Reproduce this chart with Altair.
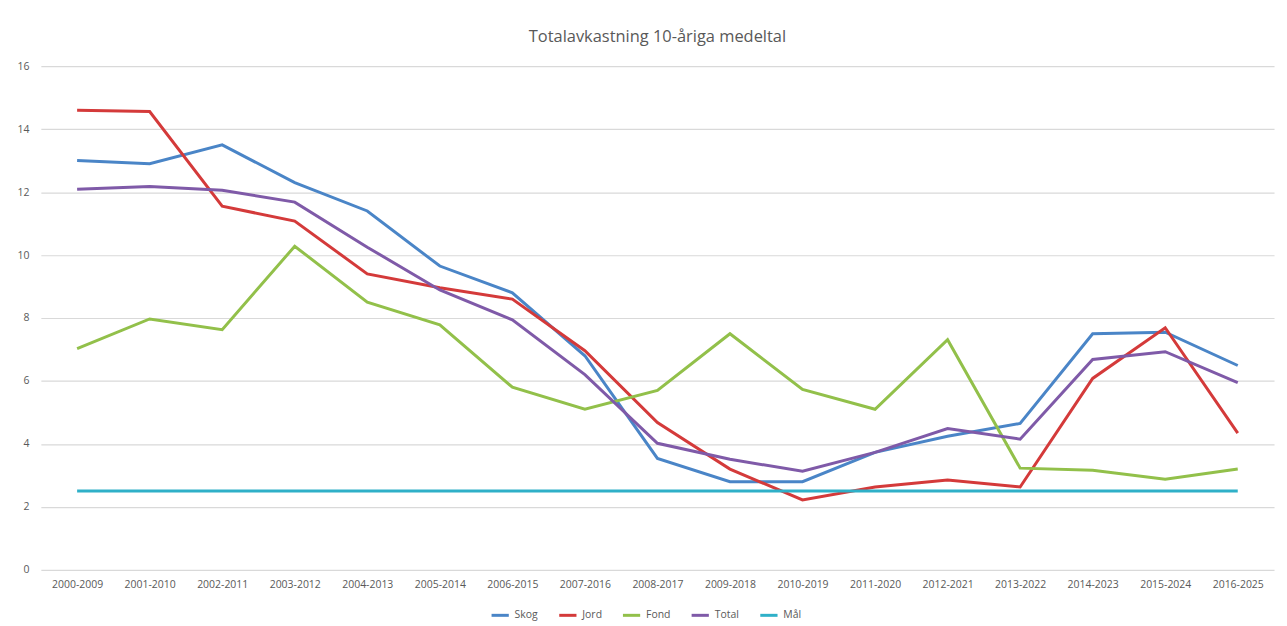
import altair as alt
import pandas as pd

periods = ["2000-2009", "2001-2010", "2002-2011", "2003-2012", "2004-2013", "2005-2014",
           "2006-2015", "2007-2016", "2008-2017", "2009-2018", "2010-2019", "2011-2020",
           "2012-2021", "2013-2022", "2014-2023", "2015-2024", "2016-2025"]
skog = [13.0, 12.9, 13.5, 12.3, 11.4, 9.65, 8.8, 6.8, 3.54, 2.8, 2.8, 3.73, 4.24, 4.65, 7.5, 7.55, 6.49]
jord = [14.6, 14.56, 11.55, 11.08, 9.4, 8.96, 8.6, 6.96, 4.68, 3.2, 2.22, 2.63, 2.85, 2.63, 6.08, 7.69, 4.34]
fond = [7.03, 7.97, 7.63, 10.28, 8.5, 7.78, 5.8, 5.1, 5.7, 7.5, 5.73, 5.1, 7.31, 3.23, 3.16, 2.88, 3.2]
total = [12.09, 12.18, 12.06, 11.68, 10.25, 8.89, 7.94, 6.2, 4.02, 3.51, 3.13, 3.73, 4.49, 4.15, 6.68, 6.93, 5.95]
mal = [2.5] * 17

series_names = ["Skog", "Jord", "Fond", "Total", "Mål"]
series_colors = ["#4a85c7", "#d43a3a", "#92c04a", "#7f5aa8", "#2fb0c8"]

df = pd.DataFrame({"Period": periods, "Skog": skog, "Jord": jord, "Fond": fond,
                   "Total": total, "Mål": mal})
long = df.melt(id_vars="Period", var_name="Serie", value_name="Värde")
long["order"] = long["Serie"].map({n: i for i, n in enumerate(series_names)})

chart = alt.Chart(long).mark_line(strokeWidth=3).encode(
    x=alt.X("Period:N", sort=periods, title=None,
            axis=alt.Axis(labelAngle=0, ticks=False, domain=False, grid=False,
                          labelColor="#595959", labelFontSize=10.5, labelPadding=10,
                          labelFont="Open Sans")),
    y=alt.Y("Värde:Q", scale=alt.Scale(domain=[0, 16]), title=None,
            axis=alt.Axis(values=list(range(0, 17, 2)), ticks=False, domain=False,
                          gridColor="#d9d9d9", gridWidth=1.2, labelColor="#595959",
                          labelFontSize=10.5, labelPadding=12, labelFont="Open Sans")),
    color=alt.Color("Serie:N", sort=series_names,
                    scale=alt.Scale(domain=series_names, range=series_colors),
                    legend=alt.Legend(title=None, orient="none", direction="horizontal",
                                      legendX=451, legendY=541,
                                      symbolType="stroke", symbolStrokeWidth=3,
                                      symbolSize=300, labelColor="#595959",
                                      labelFontSize=10.5, labelFont="Open Sans",
                                      columnPadding=14)),
    order=alt.Order("order:Q"),
    detail="Serie:N",
).properties(
    width=1239,
    height=506,
    title=alt.TitleParams("Totalavkastning 10-åriga medeltal", fontSize=16.5,
                          font="Open Sans", fontWeight="normal", color="#595959",
                          offset=16),
    padding={"left": 33, "top": 57, "right": 5, "bottom": 50},
    autosize=alt.AutoSizeParams(type="none"),
).configure_view(stroke=None)

chart.save("out.html", embed_options={"renderer": "svg", "actions": False})
